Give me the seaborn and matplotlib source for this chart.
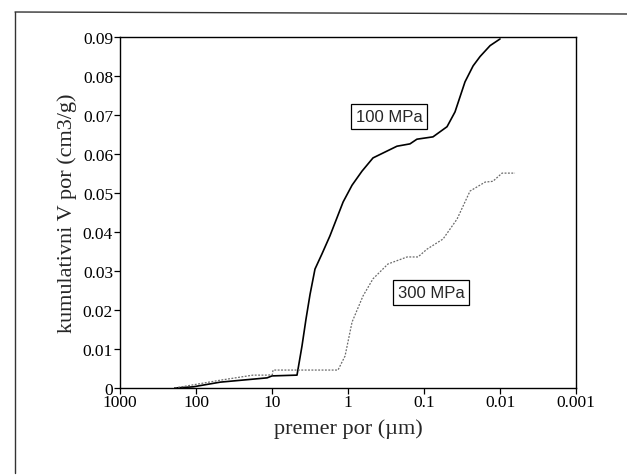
import numpy as np
import pandas as pd
import matplotlib
matplotlib.use("Agg")
import matplotlib.pyplot as plt
from matplotlib.ticker import FuncFormatter, FixedLocator, MultipleLocator
from matplotlib.lines import Line2D
import seaborn as sns

# Cumulative pore volume vs pore diameter (mercury porosimetry)
d_100 = [190, 109, 48, 11.6, 10, 4.69, 4.03, 3.57, 3.16, 2.72, 2.20, 1.73, 1.16,
         0.885, 0.655, 0.469, 0.227, 0.153, 0.124, 0.0762, 0.0498, 0.0391,
         0.0289, 0.0226, 0.0183, 0.0135, 0.0100]
v_100 = [0.0, 0.0003, 0.0015, 0.0026, 0.0031, 0.0033, 0.0108, 0.0177, 0.0240,
         0.0305, 0.0344, 0.0390, 0.0477, 0.0520, 0.0556, 0.0590, 0.0620, 0.0626,
         0.0638, 0.0644, 0.0670, 0.0708, 0.0785, 0.0826, 0.0850, 0.0878, 0.0895]

d_300 = [190, 48, 17.8, 11.6, 9.9, 9.7, 1.355, 1.094, 0.885, 0.635, 0.469,
         0.298, 0.167, 0.120, 0.0914, 0.0562, 0.0368, 0.0248, 0.0157, 0.0124,
         0.0094, 0.00635]
v_300 = [0.0, 0.0020, 0.0033, 0.0033, 0.0034, 0.0046, 0.0046, 0.0082, 0.0169,
         0.0236, 0.0280, 0.0318, 0.0336, 0.0336, 0.0356, 0.0382, 0.0433, 0.0505,
         0.0528, 0.0530, 0.0551, 0.0551]

x_ticks = [1000, 100, 10, 1, 0.1, 0.01, 0.001]
y_ticks = [0, 0.01, 0.02, 0.03, 0.04, 0.05, 0.06, 0.07, 0.08, 0.09]

df100 = pd.DataFrame({"d": d_100, "V": v_100})
df300 = pd.DataFrame({"d": d_300, "V": v_300})

sns.set_style("ticks")
plt.rcParams["font.family"] = ["Liberation Serif", "DejaVu Serif"]
plt.rcParams["mathtext.fontset"] = "stix"

fig = plt.figure(figsize=(6.27, 4.77), dpi=100)
ax = fig.add_axes([0.1914, 0.1845, 0.7273, 0.7358])

sns.lineplot(data=df100, x="d", y="V", ax=ax, color="black", lw=1.2,
             sort=False, estimator=None)
sns.lineplot(data=df300, x="d", y="V", ax=ax, color="#6a6a6a", lw=0.9,
             linestyle=(0, (1.5, 1.2)), sort=False, estimator=None)

ax.set_xscale("log")
ax.set_xlim(1000, 0.001)
ax.set_ylim(0, 0.09)
ax.xaxis.set_major_locator(FixedLocator(x_ticks))
ax.xaxis.set_minor_locator(FixedLocator([]))
ax.yaxis.set_major_locator(FixedLocator(y_ticks))
fmt = FuncFormatter(lambda v, p: "%g" % v)
ax.xaxis.set_major_formatter(fmt)
ax.yaxis.set_major_formatter(fmt)

for s in ax.spines.values():
    s.set_visible(True)
    s.set_linewidth(1.0)
    s.set_color("black")
ax.tick_params(axis="both", direction="out", length=4, width=0.9,
               labelsize=12.5, colors="black", pad=1)
ax.tick_params(axis="x", pad=0)

ax.set_xlabel("premer por (µm)", fontsize=16, labelpad=6)
ax.set_ylabel("kumulativni V por (cm3/g)", fontsize=16, labelpad=4)

box = dict(boxstyle="square,pad=0.3", fc="white", ec="black", lw=0.9)
ax.text(0.289, 0.0695, "100 MPa", ha="center", va="center", fontsize=12,
        family=["Liberation Sans", "DejaVu Sans"], bbox=box)
ax.text(0.081, 0.0244, "300 MPa", ha="center", va="center", fontsize=12,
        family=["Liberation Sans", "DejaVu Sans"], bbox=box)

# outer frame edges (left and top)
fig.add_artist(Line2D([15 / 627, 15 / 627], [1 - 13 / 477, 1 - 474 / 477],
                      transform=fig.transFigure, color="#333333", lw=1.0))
fig.add_artist(Line2D([15 / 627, 1.0], [1 - 13 / 477, 1 - 15 / 477],
                      transform=fig.transFigure, color="#333333", lw=1.0))

fig.savefig("out.png", dpi=100)
